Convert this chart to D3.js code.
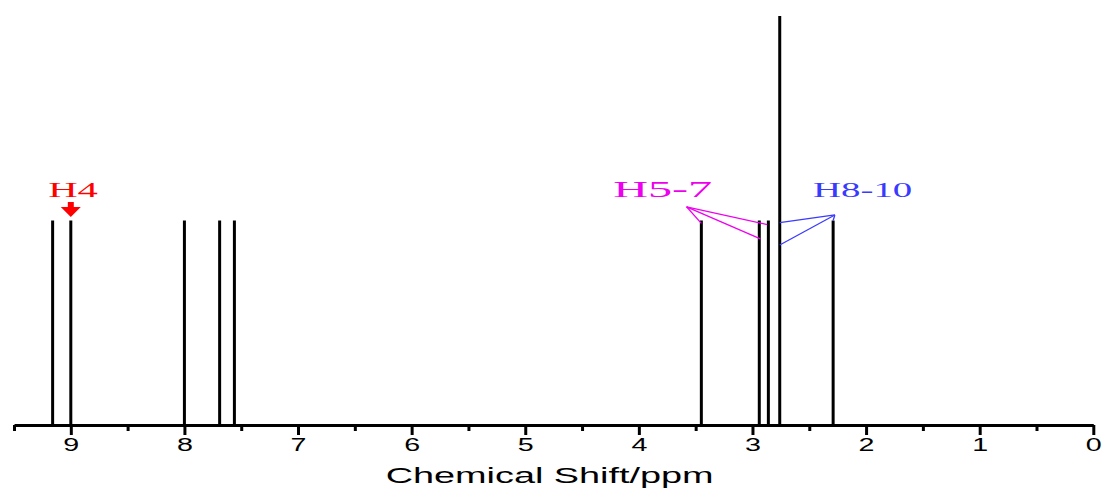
<!DOCTYPE html>
<html>
<head>
<meta charset="utf-8">
<script src="https://cdn.jsdelivr.net/npm/d3@7"></script>
<style>
  body { margin: 0; background: #fff; }
  svg { display: block; }
</style>
</head>
<body>
<div id="chart"></div>
<script>
// peak positions (ppm) and relative intensities
const peakShifts = [9.16, 9.0, 8.0, 7.69, 7.56, 3.45, 2.94, 2.86, 2.76, 2.29];
const peakHeights = [1, 1, 1, 1, 1, 1, 1, 1, 2, 1];
const majorTicks = [0, 1, 2, 3, 4, 5, 6, 7, 8, 9];
const minorTicks = [0.5, 1.5, 2.5, 3.5, 4.5, 5.5, 6.5, 7.5, 8.5, 9.5];

// annotation labels: text, anchor ppm, colour
const labelTexts = ['H4', 'H5-7', 'H8-10'];
const labelShifts = [8.98, 3.79, 2.03];
const labelColors = ['#ff0000', '#ee00ee', '#3a3aff'];
// leader lines: apex (ppm, intensity) and targets
const magentaApex = [3.58, 1.067];
const magentaTargets = [[3.45, 0.986], [2.87, 0.98], [2.93, 0.91]];
const blueApex = [2.275, 1.027];
const blueTargets = [[2.76, 0.99], [2.76, 0.88], [2.29, 1.0]];

const width = 1107, height = 491;
const axisY = 425;

const svg = d3.select('#chart').append('svg')
  .attr('width', width)
  .attr('height', height);

const x = d3.scaleLinear().domain([9.5, 0]).range([14, 1093.3]);
const y = d3.scaleLinear().domain([0, 2]).range([axisY, 16]);

// peaks
svg.selectAll('.peak')
  .data(peakShifts)
  .enter()
  .append('line')
  .attr('class', 'peak')
  .attr('x1', d => x(d))
  .attr('x2', d => x(d))
  .attr('y1', y(0))
  .attr('y2', (d, i) => y(peakHeights[i]))
  .attr('stroke', '#000')
  .attr('stroke-width', 3);

// minor ticks
const minorAxis = svg.append('g')
  .attr('transform', `translate(0,${axisY})`)
  .call(d3.axisBottom(x).tickValues(minorTicks).tickSize(6).tickSizeOuter(0).tickFormat(''));
minorAxis.select('.domain').remove();
minorAxis.selectAll('line').attr('stroke-width', 3);

// main axis
const xAxis = svg.append('g')
  .attr('transform', `translate(0,${axisY})`)
  .call(d3.axisBottom(x).tickValues(majorTicks).tickSize(10).tickSizeOuter(0).tickFormat(d3.format('d')));
xAxis.select('.domain').attr('stroke-width', 3);
xAxis.selectAll('.tick line').attr('stroke-width', 3);
xAxis.selectAll('.tick text')
  .attr('y', 26)
  .attr('dy', 0)
  .attr('transform', 'scale(1.55,1)')
  .style('font-family', '"Liberation Sans", Arial, sans-serif')
  .style('font-size', '18.5px')
  .attr('fill', '#000');

// axis title
svg.append('text')
  .attr('transform', `translate(${x(4.75) - 4},483) scale(1.72,1)`)
  .attr('text-anchor', 'middle')
  .style('font-family', '"Liberation Sans", Arial, sans-serif')
  .style('font-size', '22px')
  .text('Chemical Shift/ppm');

// annotation labels
const labelSizes = [22, 23.5, 21];
const labelScales = [1.85, 2.05, 1.85];
svg.selectAll('.ann')
  .data(labelTexts)
  .enter()
  .append('text')
  .attr('class', 'ann')
  .attr('transform', (d, i) => `translate(${x(labelShifts[i])},197) scale(${labelScales[i]},1)`)
  .attr('text-anchor', 'middle')
  .attr('fill', (d, i) => labelColors[i])
  .style('font-family', '"Liberation Serif", "Times New Roman", serif')
  .style('font-size', (d, i) => labelSizes[i] + 'px')
  .text(d => d);

// H4 arrow pointing at the 9.0 ppm peak
const ax = x(peakShifts[1]);
svg.append('path')
  .attr('d', `M${ax - 3},202 L${ax + 3},202 L${ax + 3},207 L${ax + 10},207 L${ax},217 L${ax - 10},207 L${ax - 3},207 Z`)
  .attr('fill', labelColors[0]);

// leader lines
function leaders(apex, targets, color) {
  svg.selectAll(null)
    .data(targets)
    .enter()
    .append('line')
    .attr('x1', x(apex[0]))
    .attr('y1', y(apex[1]))
    .attr('x2', d => x(d[0]))
    .attr('y2', d => y(d[1]))
    .attr('stroke', color)
    .attr('stroke-width', 1.3);
}
leaders(magentaApex, magentaTargets, labelColors[1]);
leaders(blueApex, blueTargets, labelColors[2]);
</script>
</body>
</html>
